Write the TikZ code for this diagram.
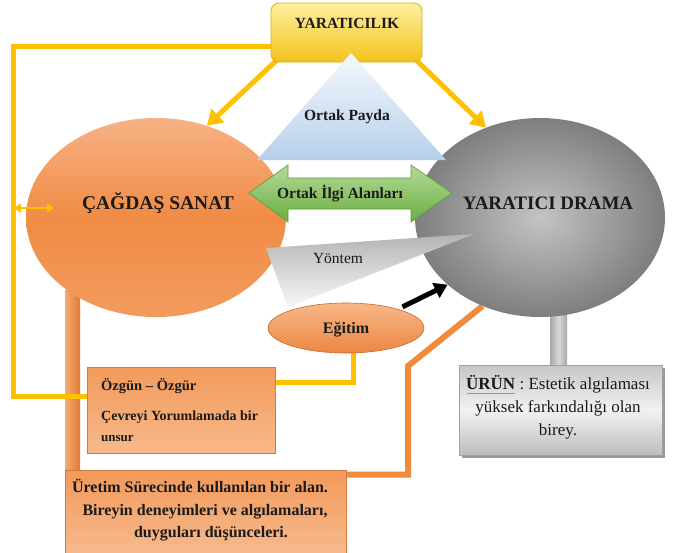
\documentclass[tikz,border=0pt]{standalone}
\usepackage{fontspec}
\setmainfont{Liberation Serif}
\newfontfamily\tnr{Liberation Serif}
\usetikzlibrary{shapes.geometric,arrows.meta}
\pgfdeclarelayer{back}
\pgfsetlayers{back,main}
\definecolor{yel}{HTML}{FFC000}
\definecolor{txtc}{HTML}{1A1A1A}
\definecolor{orA}{HTML}{F7B285}
\definecolor{orB}{HTML}{F08C45}
\definecolor{orC}{HTML}{F29B5E}
\definecolor{grIn}{HTML}{C4C4C4}
\definecolor{grOut}{HTML}{7E7E7E}
\definecolor{yelTop}{HTML}{FFEFA0}
\definecolor{yelBot}{HTML}{F4C21C}
\definecolor{yelEdge}{HTML}{E0AE10}
\definecolor{blTop}{HTML}{F4F9FE}
\definecolor{blBot}{HTML}{B7CFEA}
\definecolor{gnTop}{HTML}{B3DA98}
\definecolor{gnBot}{HTML}{6AAE42}
\definecolor{gnEdge}{HTML}{5E9A3A}
\definecolor{frm}{HTML}{F08A3C}
\definecolor{frmL}{HTML}{F6AA72}
\definecolor{frmD}{HTML}{E27B33}
\definecolor{boxEdge}{HTML}{D07C40}
\definecolor{boxTop}{HTML}{F29A5A}
\definecolor{boxBot}{HTML}{F7B98C}
\definecolor{egTop}{HTML}{F8B889}
\definecolor{egBot}{HTML}{EC8642}
\definecolor{egEdge}{HTML}{C76A2C}
\definecolor{ygTop}{HTML}{B4B4B4}
\definecolor{ygBot}{HTML}{F8F8F8}
\definecolor{urTop}{HTML}{C6C6C6}
\definecolor{urMid}{HTML}{F2F2F2}
\definecolor{urBot}{HTML}{BDBDBD}
\definecolor{urEdge}{HTML}{A0A0A0}
\definecolor{urShadow}{HTML}{9A9A9A}
\definecolor{pilS}{HTML}{A8A8A8}
\definecolor{pilM}{HTML}{D8D8D8}
\definecolor{squig}{HTML}{7A9CCF}
\newcommand\fsz[1]{\tnr\fontsize{#1}{#1}\selectfont}
\begin{document}
\begin{tikzpicture}[x=1pt,y=-1pt,
  lbl/.style={inner sep=0, text=txtc, anchor=base},
  yline/.style={draw=yel, line width=5pt, line join=miter},
  yarrow/.style={draw=yel, line width=5pt, -{Triangle[length=15pt,width=18pt]}},
  ]
\useasboundingbox (0,0) rectangle (679,552);

% ---- main shapes ----
\node[draw=yelEdge, line width=0.8pt, rounded corners=8pt, top color=yelTop, bottom color=yelBot,
      minimum width=151pt, minimum height=59pt, inner sep=0] (yar) at (346.5,32.5) {};
\node[ellipse, minimum width=260pt, minimum height=199pt, inner sep=0,
      top color=orA, bottom color=orC, middle color=orB] (cs) at (156,217.5) {};
\node[ellipse, minimum width=250pt, minimum height=199pt, inner sep=0,
      inner color=grIn, outer color=grOut] (yd) at (540,217.5) {};

% Ortak Payda triangle
\coordinate (pA) at (351,53);
\coordinate (pB) at (446,160);
\coordinate (pC) at (257,160);
\shade[top color=blTop, bottom color=blBot] (pA) -- (pB) -- (pC) -- cycle;

% green double arrow
\coordinate (g1) at (249,193);
\coordinate (g2) at (288,165);
\coordinate (g3) at (288,178);
\coordinate (g4) at (411,178);
\coordinate (g5) at (411,165);
\coordinate (g6) at (452,193);
\coordinate (g7) at (411,222);
\coordinate (g8) at (411,209);
\coordinate (g9) at (288,209);
\coordinate (g10) at (288,222);
\path[draw=gnEdge, line width=0.6pt, top color=gnTop, bottom color=gnBot]
  (g1) -- (g2) -- (g3) -- (g4) -- (g5) -- (g6) -- (g7) -- (g8) -- (g9) -- (g10) -- cycle;

% Yontem triangle
\coordinate (y1) at (266,248);
\coordinate (y2) at (474,234);
\coordinate (y3) at (288,307);
\path[top color=ygTop, bottom color=ygBot] (y1) -- (y2) -- (y3) -- cycle;

% Egitim
\node[ellipse, minimum width=156pt, minimum height=50pt, inner sep=0, draw=egEdge, line width=0.6pt,
      top color=egTop, bottom color=egBot] (eg) at (346,328) {};
\draw[line width=5pt, -{Triangle[length=13pt,width=16pt]}, shorten <=5pt] (eg.20) -- (yd.216);

% boxes
\node[draw=boxEdge, line width=0.6pt, top color=boxTop, bottom color=boxBot,
      minimum width=188pt, minimum height=86pt, inner sep=0] (oz) at (181,410) {};
\fill[urShadow] (462,368) rectangle (665,458);
\node[draw=urEdge, line width=0.6pt, top color=urTop, bottom color=urBot, middle color=urMid,
      minimum width=203pt, minimum height=90pt, inner sep=0] (ur) at (560.5,410) {};
\node[draw=boxEdge, line width=0.6pt, top color=boxTop, bottom color=boxBot,
      minimum width=281pt, minimum height=83pt, inner sep=0] (bt) at (205.5,511.5) {};

% small double arrow at left
\coordinate (la) at (14,208);
\coordinate (lb) at (54,208);
\draw[yel, line width=2.5pt, {Triangle[length=7pt,width=9pt]}-{Triangle[length=7pt,width=9pt]}] (la) -- (lb);

% ---- background connectors ----
\begin{pgfonlayer}{back}
  \fill[white] (0,0) rectangle (679,552);
  \shade[left color=frmL, right color=frmD] (65,290) rectangle (80,552);
  \draw[frm, line width=6pt, line join=miter] (72.5,474.5) coordinate (f1) -- (408,474.5) coordinate (f2)
        -- (408,366) coordinate (f3) -- (yd.237);
  \shade[left color=pilS, right color=pilS, middle color=pilM] (550,300) rectangle (567,366);
  \coordinate (yc) at (13,396);
  \draw[yline] ([yshift=-13.5pt]yar.west) -| (yc) |- ([yshift=14pt]oz.west);
  \draw[yline] ([xshift=7pt]eg.south) |- ([yshift=28pt]oz.east);
  \draw[yarrow] ([xshift=8pt,yshift=4pt]yar.south west) -- (cs.61);
  \draw[yarrow] ([xshift=-8pt,yshift=4pt]yar.south east) -- (yd.121.6);
\end{pgfonlayer}

% ---- texts ----
\node[lbl, font=\fsz{15.5}\bfseries] (tyar) at (347,28) {YARATICILIK};
\node[lbl, font=\fsz{19.5}\bfseries] (tcs) at (158,209) {ÇAĞDAŞ SANAT};
\node[lbl, font=\fsz{19}\bfseries] (tyd) at (548,209) {YARATICI DRAMA};
\node[lbl, font=\fsz{15.5}\bfseries] (tpay) at (347,120) {Ortak Payda};
\node[lbl, font=\fsz{15.5}\bfseries] (tilgi) at (340,198) {Ortak İlgi Alanları};
\node[lbl, font=\fsz{15.5}] (tyon) at (338,263) {Yöntem};
\node[lbl, font=\fsz{16}\bfseries] (tegi) at (346,333) {Eğitim};
\node[lbl, anchor=base west, font=\fsz{14.5}\bfseries] (toz1) at (101,390) {Özgün – Özgür};
\node[lbl, anchor=base west, font=\fsz{14}\bfseries] (toz2) at (101,420) {Çevreyi Yorumlamada bir};
\node[lbl, anchor=base west, font=\fsz{13}\bfseries] (toz3) at (101,441) {unsur};
\node[lbl, font=\fsz{17}] (tur1) at (558,389) {\textbf{ÜRÜN} : Estetik algılaması};
\node[lbl, font=\fsz{17}] (tur2) at (558,412) {yüksek farkındalığı olan};
\node[lbl, font=\fsz{17}] (tur3) at (558,435) {birey.};
\draw[squig, line width=0.8pt] ([xshift=1pt,yshift=-4pt]tur1.base west) -- ++(48,0);
\node[lbl, font=\fsz{16}\bfseries] (tbt1) at (200,492) {Üretim Sürecinde kullanılan bir alan.};
\node[lbl, font=\fsz{16}\bfseries] (tbt2) at (205,515) {Bireyin deneyimleri ve algılamaları,};
\node[lbl, font=\fsz{16}\bfseries] (tbt3) at (211,537) {duyguları düşünceleri.};
\end{tikzpicture}
\end{document}
